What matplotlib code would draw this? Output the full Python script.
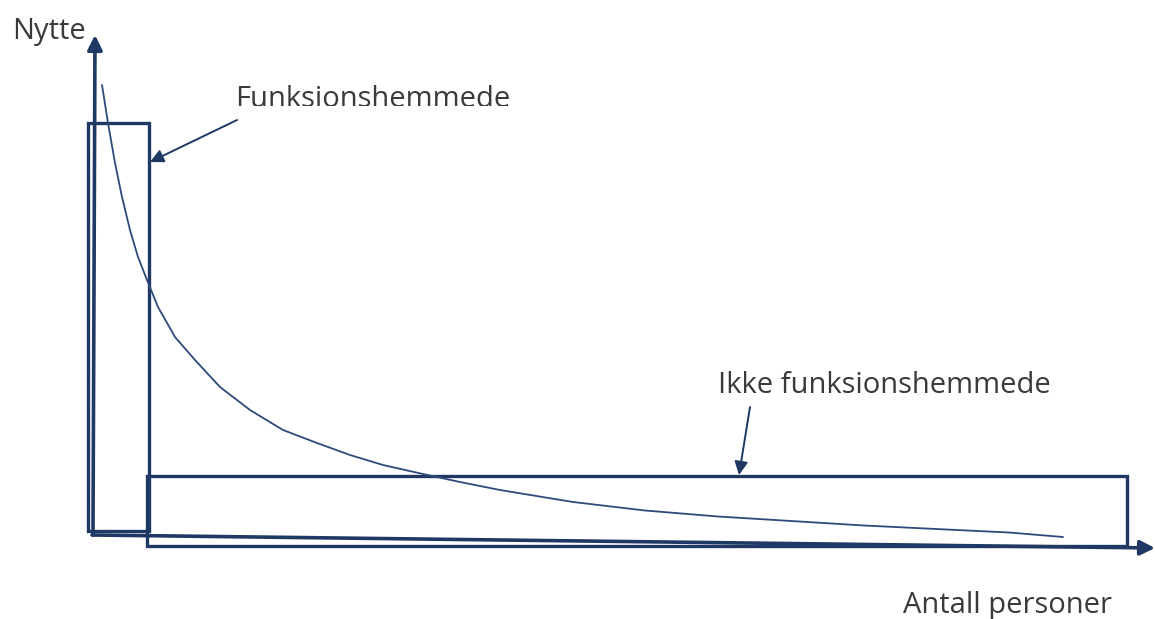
import matplotlib.pyplot as plt
from matplotlib.patches import Rectangle

# curve of "Nytte" against "Antall personer" (origin at the axis corner)
curve_x = [10, 16, 23, 30, 38, 46, 55, 66, 83, 103, 128, 158, 191, 225, 258, 291,
           331, 368, 408, 481, 553, 626, 699, 772, 844, 917, 971]
curve_y = [450, 412, 372, 338, 305, 278, 255, 228, 198, 175, 148, 125, 105, 92, 80, 70,
           61, 53, 45, 33, 24.5, 18.5, 14, 9.5, 6, 2.5, -2]

# the two groups drawn as open boxes: left, bottom, width, height
groups = ["Funksionshemmede", "Ikke funksionshemmede"]
group_left = [-4, 55]
group_bottom = [4, -11]
group_width = [61, 980]
group_height = [408, 70]

# label baselines and the arrows pointing at the boxes
label_pos = [(143, 428), (626, 142)]
arrow_start = [(145, 415), (658, 128)]
label_tip = [(58, 373), (647, 60)]

NAVY = "#1f3864"
TEXT = "#3a3a3a"

plt.rcParams["font.family"] = ["Open Sans", "DejaVu Sans"]

fig = plt.figure(figsize=(11.55, 6.19), dpi=100)
ax = fig.add_axes([0, 0, 1, 1])
ax.set_xlim(-92, 1063)
ax.set_ylim(-84, 535)
ax.axis("off")

# axes with arrow heads
ax.annotate("", xy=(3, 500), xytext=(1, 0),
            arrowprops=dict(arrowstyle="-|>", color=NAVY, lw=2.6, mutation_scale=22, shrinkA=0, shrinkB=0))
ax.annotate("", xy=(1063, -13), xytext=(0, 0),
            arrowprops=dict(arrowstyle="-|>", color=NAVY, lw=2.6, mutation_scale=22, shrinkA=0, shrinkB=0))

for left, bottom, width, height in zip(group_left, group_bottom, group_width, group_height):
    ax.add_patch(Rectangle((left, bottom), width, height, fill=False, edgecolor=NAVY, lw=2.4))

ax.plot(curve_x, curve_y, color="#2e4a7a", lw=1.3, solid_joinstyle="round", solid_capstyle="round")

for name, pos, start, tip in zip(groups, label_pos, arrow_start, label_tip):
    t = ax.text(pos[0], pos[1], name, fontsize=21, color=TEXT, ha="left", va="baseline")
    if name == "Funksionshemmede":
        # the text box in the original cuts off the lower edge of the word
        clip = Rectangle((pos[0] - 10, 429.5), 420, 70, transform=ax.transData)
        t.set_clip_on(True)
        t.set_clip_path(clip)
    ax.annotate("", xy=tip, xytext=start,
                arrowprops=dict(arrowstyle="-|>", color=NAVY, lw=1.4, mutation_scale=20, shrinkA=0, shrinkB=0))

ax.text(-80, 496, "Nytte", fontsize=21, color=TEXT, ha="left", va="baseline")
ax.text(811, -78, "Antall personer", fontsize=21, color=TEXT, ha="left", va="baseline")

fig.savefig("out.png", dpi=100)
